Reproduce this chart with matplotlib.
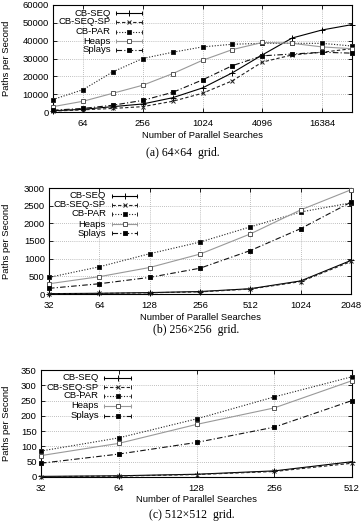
import matplotlib
matplotlib.use('Agg')
import matplotlib.pyplot as plt
from matplotlib.lines import Line2D

plt.rcParams['font.family'] = ['Liberation Sans', 'DejaVu Sans']
plt.rcParams['font.size'] = 6.8

W, H = 361, 525

series_names = ['CB-SEQ', 'CB-SEQ-SP', 'CB-PAR', 'Heaps', 'Splays']

# (a) 64x64 grid
x_a = [32, 64, 128, 256, 512, 1024, 2048, 4096, 8192, 16384, 32768]
a_cbseq = [700, 1500, 3000, 4500, 8000, 13500, 22000, 32000, 41500, 46000, 49000]
a_cbseqsp = [500, 1200, 2000, 3000, 6000, 10500, 17500, 28000, 32000, 33500, 35500]
a_cbpar = [7000, 12500, 22500, 30000, 33500, 36500, 38000, 38500, 38500, 38500, 37000]
a_heaps = [3000, 6000, 10500, 15000, 21500, 29000, 35000, 39000, 38500, 36500, 35500]
a_splays = [1000, 2000, 3800, 6500, 11000, 18000, 26000, 31500, 32500, 33500, 33000]

# (b) 256x256 grid
x_b = [32, 64, 128, 256, 512, 1024, 2048]
b_cbseq = [10, 20, 40, 70, 150, 370, 950]
b_cbseqsp = [5, 15, 35, 60, 140, 350, 920]
b_cbpar = [470, 770, 1140, 1470, 1900, 2320, 2580]
b_heaps = [290, 490, 750, 1130, 1700, 2380, 2950]
b_splays = [160, 290, 470, 730, 1230, 1850, 2600]

# (c) 512x512 grid
x_c = [32, 64, 128, 256, 512]
c_cbseq = [2, 4, 9, 20, 50]
c_cbseqsp = [1, 3, 8, 18, 45]
c_cbpar = [85, 128, 190, 262, 328]
c_heaps = [70, 110, 172, 226, 315]
c_splays = [45, 75, 113, 163, 250]

estilos = {
    'CB-SEQ': dict(color='black', ls='-', marker='+', ms=4, mfc='black'),
    'CB-SEQ-SP': dict(color='#222222', ls=(0, (3, 2)), marker='x', ms=3, mfc='black'),
    'CB-PAR': dict(color='#222222', ls=(0, (1, 1.5)), marker='s', ms=2.5, mfc='black'),
    'Heaps': dict(color='#999999', ls='-', marker='s', ms=3.5, mfc='white', mec='#555555'),
    'Splays': dict(color='#111111', ls=(0, (5, 2, 1, 2)), marker='s', ms=2.8, mfc='black'),
}


def fx(px):
    return px / W


def fy(py):
    return 1 - py / H


def make_axes(fig, left, right, top, bottom):
    return fig.add_axes([fx(left), fy(bottom), fx(right - left), (bottom - top) / H])


def desenha_painel(fig, box, xs, dados, xticks, ylim, ystep, legend_pos, xlabel_y,
                   caption, caption_x, caption_y):
    left, right, top, bottom = box
    ax = make_axes(fig, left, right, top, bottom)
    for nome, ys in zip(series_names, dados):
        st = estilos[nome]
        ax.plot(xs, ys, color=st['color'], ls=st['ls'], lw=0.8, marker=st['marker'],
                ms=st['ms'], mfc=st['mfc'], mec=st.get('mec', st['color']), mew=0.7,
                clip_on=False, zorder=3)
    ax.set_xscale('log', base=2)
    ax.set_xlim(xs[0], xs[-1])
    ax.set_xticks(xticks)
    ax.set_xticklabels([str(t) for t in xticks])
    ax.minorticks_off()
    ax.set_ylim(*ylim)
    ax.set_yticks(range(ylim[0], ylim[1] + 1, ystep))
    ax.tick_params(direction='in', top=True, right=True, length=3, width=0.6,
                   labelsize=6.8, colors='black')
    ax.tick_params(axis='x', pad=5)
    ax.tick_params(axis='y', pad=3)
    ax.grid(True, color='#aaaaaa', ls=(0, (1, 1.5)), lw=0.6)
    ax.set_axisbelow(True)
    for s in ax.spines.values():
        s.set_linewidth(0.8)
    fig.text(fx(7), fy((top + bottom) / 2), 'Paths per Second', rotation=90,
             ha='center', va='center', fontsize=6.8)
    fig.text(fx((left + right) / 2), fy(xlabel_y), 'Number of Parallel Searches',
             ha='center', va='center', fontsize=6.8)
    fig.text(fx(caption_x), fy(caption_y), caption, ha='center', va='center',
             fontsize=8.5, family='Liberation Serif')

    # legenda estilo gnuplot: texto alinhado a direita, amostra da linha depois
    x_txt, x0, x1, y_linhas = legend_pos
    for nome, yl in zip(series_names, y_linhas):
        st = estilos[nome]
        fig.text(fx(x_txt), fy(yl), nome, ha='right', va='center', fontsize=6.8)
        fig.add_artist(Line2D([fx(x0), fx(x1)], [fy(yl), fy(yl)], color=st['color'],
                              ls=st['ls'], lw=0.8, transform=fig.transFigure))
        fig.add_artist(Line2D([fx(x0), fx(x1)], [fy(yl), fy(yl)], ls='none', marker='|',
                              ms=3, mew=0.7, color=st['color'], transform=fig.transFigure))
        fig.add_artist(Line2D([fx((x0 + x1) / 2)], [fy(yl)], ls='none', marker=st['marker'],
                              ms=st['ms'], mfc=st['mfc'], mec=st.get('mec', st['color']),
                              mew=0.7, transform=fig.transFigure))
    return ax


fig = plt.figure(figsize=(W / 100, H / 100), dpi=100)

desenha_painel(fig, (53, 352, 5, 112), x_a,
               [a_cbseq, a_cbseqsp, a_cbpar, a_heaps, a_splays],
               [64, 256, 1024, 4096, 16384], (0, 60000), 10000,
               (111, 116, 142, [13, 22, 32, 41, 50]), 135,
               '(a) 64\u00d764  grid.', 183, 153)

desenha_painel(fig, (49, 351, 188, 294), x_b,
               [b_cbseq, b_cbseqsp, b_cbpar, b_heaps, b_splays],
               x_b, (0, 3000), 500,
               (106, 112, 137, [196, 205, 214, 224, 233]), 318,
               '(b) 256\u00d7256  grid.', 196, 330)

desenha_painel(fig, (41, 352, 370, 477), x_c,
               [c_cbseq, c_cbseqsp, c_cbpar, c_heaps, c_splays],
               x_c, (0, 350), 50,
               (99, 104, 131, [378, 387, 396, 406, 416]), 500,
               '(c) 512\u00d7512  grid.', 192, 515)

fig.savefig('out.png', dpi=100)
